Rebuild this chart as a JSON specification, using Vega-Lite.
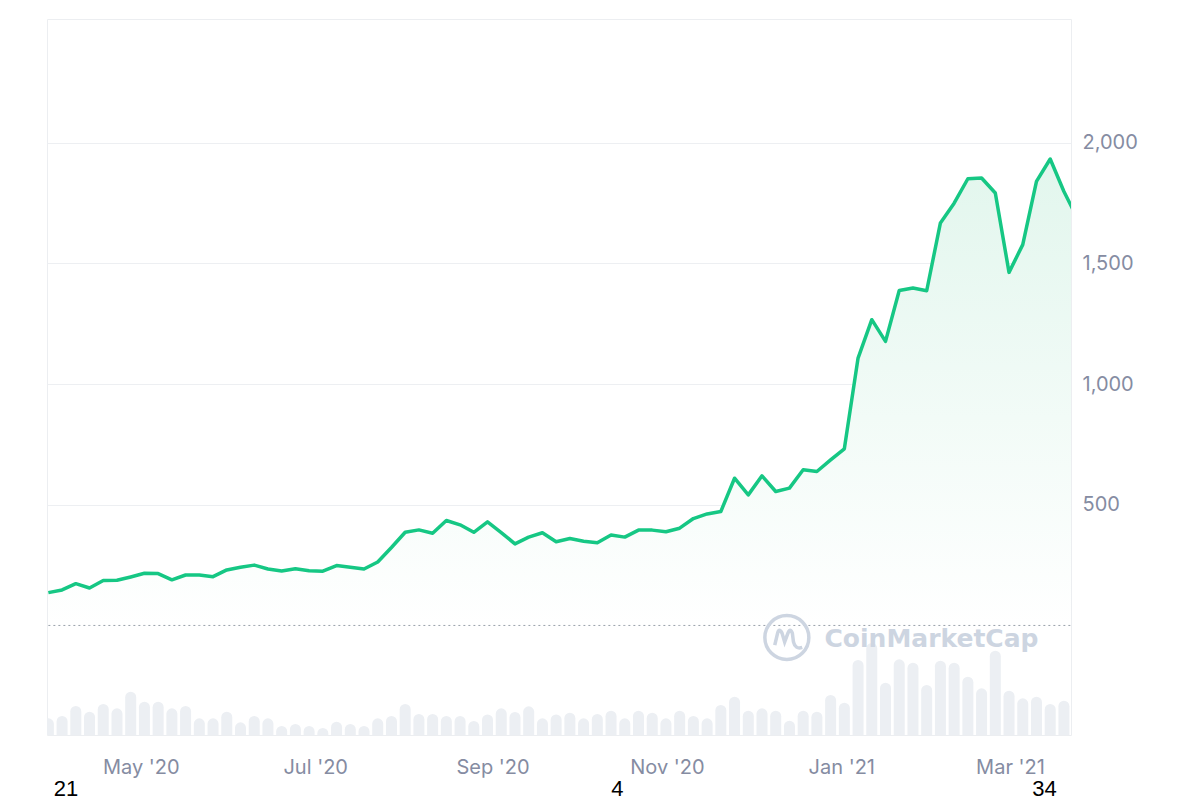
{
  "$schema": "https://vega.github.io/schema/vega-lite/v6.json",
  "width": 1024,
  "height": 716,
  "autosize": "none",
  "padding": {"left": 47, "top": 19, "right": 129, "bottom": 65},
  "background": "white",
  "config": {"view": {"stroke": "#eceef1", "strokeWidth": 1}, "font": "Liberation Sans"},
  "data": {"values": [
    {"date": "2020-03-29T16:00", "price": 136, "volume": 10.0},
    {"date": "2020-04-03T11:12", "price": 147, "volume": 11.4},
    {"date": "2020-04-08T06:24", "price": 173, "volume": 17.4},
    {"date": "2020-04-13T01:36", "price": 155, "volume": 14.0},
    {"date": "2020-04-17T20:48", "price": 186, "volume": 18.6},
    {"date": "2020-04-22T16:00", "price": 187, "volume": 16.0},
    {"date": "2020-04-27T11:12", "price": 201, "volume": 26.0},
    {"date": "2020-05-02T06:24", "price": 216, "volume": 20.0},
    {"date": "2020-05-07T01:36", "price": 215, "volume": 20.0},
    {"date": "2020-05-11T20:48", "price": 189, "volume": 16.0},
    {"date": "2020-05-16T16:00", "price": 209, "volume": 17.4},
    {"date": "2020-05-21T11:12", "price": 209, "volume": 10.0},
    {"date": "2020-05-26T06:24", "price": 202, "volume": 10.0},
    {"date": "2020-05-31T01:36", "price": 230, "volume": 14.0},
    {"date": "2020-06-04T20:48", "price": 241, "volume": 7.6},
    {"date": "2020-06-09T16:00", "price": 250, "volume": 11.4},
    {"date": "2020-06-14T11:12", "price": 234, "volume": 10.0},
    {"date": "2020-06-19T06:24", "price": 226, "volume": 5.4},
    {"date": "2020-06-24T01:36", "price": 235, "volume": 6.6},
    {"date": "2020-06-28T20:48", "price": 227, "volume": 5.4},
    {"date": "2020-07-03T16:00", "price": 225, "volume": 4.2},
    {"date": "2020-07-08T11:12", "price": 248, "volume": 8.0},
    {"date": "2020-07-13T06:24", "price": 241, "volume": 6.6},
    {"date": "2020-07-18T01:36", "price": 234, "volume": 5.4},
    {"date": "2020-07-22T20:48", "price": 263, "volume": 10.0},
    {"date": "2020-07-27T16:00", "price": 323, "volume": 11.4},
    {"date": "2020-08-01T11:12", "price": 386, "volume": 18.6},
    {"date": "2020-08-06T06:24", "price": 396, "volume": 12.6},
    {"date": "2020-08-11T01:36", "price": 382, "volume": 12.6},
    {"date": "2020-08-15T20:48", "price": 435, "volume": 11.4},
    {"date": "2020-08-20T16:00", "price": 417, "volume": 11.4},
    {"date": "2020-08-25T11:12", "price": 386, "volume": 8.4},
    {"date": "2020-08-30T06:24", "price": 429, "volume": 12.3},
    {"date": "2020-09-04T01:36", "price": 385, "volume": 16.0},
    {"date": "2020-09-08T20:48", "price": 338, "volume": 13.8},
    {"date": "2020-09-13T16:00", "price": 366, "volume": 17.2},
    {"date": "2020-09-18T11:12", "price": 384, "volume": 10.0},
    {"date": "2020-09-23T06:24", "price": 347, "volume": 12.3},
    {"date": "2020-09-28T01:36", "price": 360, "volume": 13.4},
    {"date": "2020-10-02T20:48", "price": 349, "volume": 10.0},
    {"date": "2020-10-07T16:00", "price": 343, "volume": 12.6},
    {"date": "2020-10-12T11:12", "price": 375, "volume": 14.6},
    {"date": "2020-10-17T06:24", "price": 366, "volume": 10.0},
    {"date": "2020-10-22T01:36", "price": 395, "volume": 14.6},
    {"date": "2020-10-26T20:48", "price": 395, "volume": 13.4},
    {"date": "2020-10-31T16:00", "price": 388, "volume": 10.0},
    {"date": "2020-11-05T11:12", "price": 403, "volume": 14.6},
    {"date": "2020-11-10T06:24", "price": 443, "volume": 11.4},
    {"date": "2020-11-15T01:36", "price": 462, "volume": 10.0},
    {"date": "2020-11-19T20:48", "price": 472, "volume": 18.0},
    {"date": "2020-11-24T16:00", "price": 610, "volume": 23.0},
    {"date": "2020-11-29T11:12", "price": 541, "volume": 14.6},
    {"date": "2020-12-04T06:24", "price": 620, "volume": 16.0},
    {"date": "2020-12-09T01:36", "price": 555, "volume": 14.6},
    {"date": "2020-12-13T20:48", "price": 569, "volume": 8.6},
    {"date": "2020-12-18T16:00", "price": 645, "volume": 14.6},
    {"date": "2020-12-23T11:12", "price": 638, "volume": 14.0},
    {"date": "2020-12-28T06:24", "price": 686, "volume": 24.0},
    {"date": "2021-01-02T01:36", "price": 732, "volume": 19.4},
    {"date": "2021-01-06T20:48", "price": 1108, "volume": 45.0},
    {"date": "2021-01-11T16:00", "price": 1267, "volume": 55.2},
    {"date": "2021-01-16T11:12", "price": 1177, "volume": 31.4},
    {"date": "2021-01-21T06:24", "price": 1388, "volume": 45.4},
    {"date": "2021-01-26T01:36", "price": 1398, "volume": 43.4},
    {"date": "2021-01-30T20:48", "price": 1387, "volume": 30.0},
    {"date": "2021-02-04T16:00", "price": 1668, "volume": 44.6},
    {"date": "2021-02-09T11:12", "price": 1750, "volume": 43.4},
    {"date": "2021-02-14T06:24", "price": 1851, "volume": 35.0},
    {"date": "2021-02-19T01:36", "price": 1854, "volume": 28.0},
    {"date": "2021-02-23T20:48", "price": 1792, "volume": 50.6},
    {"date": "2021-02-28T16:00", "price": 1463, "volume": 26.6},
    {"date": "2021-03-05T11:12", "price": 1578, "volume": 22.0},
    {"date": "2021-03-10T06:24", "price": 1840, "volume": 23.0},
    {"date": "2021-03-15T01:36", "price": 1933, "volume": 18.6},
    {"date": "2021-03-19T20:48", "price": 1798, "volume": 20.6},
    {"date": "2021-03-24T16:00", "price": 1685, "volume": 28.0}
  ]},
  "encoding": {
    "x": {"field": "date", "type": "temporal",
      "scale": {"domain": [{"year": 2020, "month": 3, "date": 29, "hours": 4, "minutes": 36}, {"year": 2021, "month": 3, "date": 22, "hours": 8, "minutes": 10}], "nice": false, "padding": 0},
      "axis": {"values": [{"year": 2020, "month": 5, "date": 1}, {"year": 2020, "month": 7, "date": 1}, {"year": 2020, "month": 9, "date": 1}, {"year": 2020, "month": 11, "date": 1}, {"year": 2021, "month": 1, "date": 1}, {"year": 2021, "month": 3, "date": 1}],
        "format": "%b '%y", "labelFont": "Inter", "labelFontSize": 20, "labelColor": "#858ca2", "labelPadding": 22, "ticks": false, "domain": false, "grid": false, "title": null, "labelAlign": "center", "labelFlush": false, "labelOverlap": false}}
  },
  "layer": [
    {
      "mark": {"type": "area", "clip": true, "color": {"gradient": "linear", "x1": 0, "y1": 0, "x2": 0, "y2": 1, "stops": [{"offset": 0, "color": "#e2f6ed"}, {"offset": 1, "color": "#ffffff"}]}},
      "encoding": {
        "y": {"field": "price", "type": "quantitative",
          "scale": {"domain": [-454, 2513], "nice": false, "zero": false},
          "axis": {"orient": "right", "values": [500, 1000, 1500, 2000], "format": ",.0f", "labelFont": "Inter", "labelFontSize": 20, "labelColor": "#858ca2", "labelPadding": 11, "ticks": false, "domain": false, "grid": true, "gridColor": "#edeff2", "gridWidth": 1, "title": null, "labelAlign": "left", "labelBaseline": "middle"}},
        "y2": {"datum": 0}
      }
    },
    {
      "mark": {"type": "rule", "clip": true, "color": "#eceff3", "strokeWidth": 11, "strokeCap": "round"},
      "encoding": {
        "y": {"field": "volume", "type": "quantitative", "scale": {"domain": [3.3, 432.9], "nice": false, "zero": false}, "axis": null},
        "y2": {"datum": 0}
      }
    },
    {
      "mark": {"type": "line", "clip": true, "color": "#9aa1ab", "strokeDash": [2, 3], "strokeWidth": 1},
      "encoding": {
        "y": {"datum": 0, "type": "quantitative", "scale": {"domain": [-454, 2513], "nice": false, "zero": false}, "axis": null}
      }
    },
    {
      "mark": {"type": "line", "clip": true, "color": "#16c784", "strokeWidth": 3.5, "strokeJoin": "round"},
      "encoding": {
        "y": {"field": "price", "type": "quantitative", "scale": {"domain": [-454, 2513], "nice": false, "zero": false}, "axis": null}
      }
    },
    {
      "data": {"values": [{"date": "2020-12-12T23:00"}]},
      "mark": {"type": "point", "shape": "M 1 0 A 1 1 0 1 1 -1 0 A 1 1 0 1 1 1 0 M -0.55 0.35 L -0.42 -0.2 Q -0.35 -0.45 -0.22 -0.2 L -0.1 0.2 L 0.05 -0.2 Q 0.15 -0.45 0.25 -0.2 L 0.3 0.2 Q 0.38 0.55 0.7 0.45", "filled": false, "size": 1936, "strokeWidth": 3.5, "color": "#cdd5e1", "opacity": 1},
      "encoding": {
        "y": {"datum": -50, "type": "quantitative", "scale": {"domain": [-454, 2513], "nice": false, "zero": false}, "axis": null}
      }
    },
    {
      "data": {"values": [{"date": "2021-02-01T13:00", "label": "CoinMarketCap"}]},
      "mark": {"type": "text", "font": "DejaVu Sans", "fontWeight": "bold", "fontSize": 25, "color": "#cdd5e1", "baseline": "alphabetic", "align": "center"},
      "encoding": {
        "y": {"datum": -90, "type": "quantitative", "scale": {"domain": [-454, 2513], "nice": false, "zero": false}, "axis": null},
        "text": {"field": "label"}
      }
    },
    {
      "data": {"values": [{"date": "2020-04-04T20:00", "label": "21"}, {"date": "2020-10-14T17:00", "label": "4"}, {"date": "2021-03-13T02:00", "label": "34"}]},
      "mark": {"type": "text", "fontSize": 22, "color": "#000000", "baseline": "middle", "align": "center"},
      "encoding": {
        "y": {"datum": -678, "type": "quantitative", "scale": {"domain": [-454, 2513], "nice": false, "zero": false}, "axis": null},
        "text": {"field": "label"}
      }
    }
  ],
  "resolve": {"scale": {"y": "independent"}}
}
